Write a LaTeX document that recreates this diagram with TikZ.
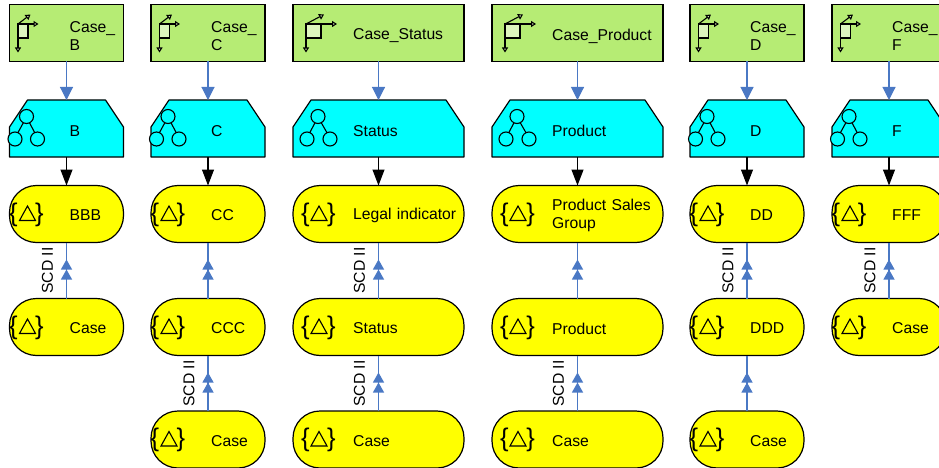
\documentclass[tikz,border=0pt]{standalone}
\usepackage{fontspec}
\setmainfont{Liberation Sans}
\usetikzlibrary{arrows.meta}
\definecolor{grn}{HTML}{B6EC74}
\definecolor{grnl}{HTML}{DDF5BE}
\definecolor{cyn}{HTML}{00FFFF}
\definecolor{yel}{HTML}{FFFF00}
\definecolor{blu}{HTML}{4A78C4}
\tikzset{
 x=1pt,y=-1pt,
 lbl/.style={font=\fontsize{15.7}{18}\selectfont,align=left,anchor=west,inner sep=0pt,text width=#1},
 lbl/.default=100pt,
 boxa/.style={draw=black,line width=1.2pt,fill=grn,inner sep=0pt,outer sep=0pt,anchor=north west,minimum height=57pt},
 boxb/.style={draw=none,inner sep=0pt,outer sep=0pt,anchor=north west,minimum height=57pt},
 boxc/.style={draw=black,line width=1.2pt,fill=yel,rounded corners=27pt,inner sep=0pt,outer sep=0pt,anchor=north west,minimum height=57pt},
 bluearrow/.style={draw=blu,line width=1.1pt,-{Triangle[width=13pt,length=13pt,fill=blu]}},
 blackarrow/.style={draw=black,line width=1.1pt,-{Triangle[width=12pt,length=16pt,fill=black]}},
 blueline/.style={draw=blu,line width=1.1pt},
 dblarrow/.style={draw=blu,line width=1.1pt,-{Triangle[width=11pt,length=10pt,fill=blu]Triangle[width=11pt,length=10pt,fill=blu]},shorten >=17pt},
 ico/.style={draw=black,line width=1.1pt},
 icoarrow/.style={draw=black,line width=1.1pt,-{Triangle[width=6pt,length=5pt,fill=grnl]}},
 scd/.style={font=\fontsize{15.7}{18}\selectfont,rotate=90,inner sep=0pt},
}
\newcommand{\greenbox}[5]{% name x w text textwidth
 \node[boxa,minimum width=#3pt] (#1) at (#2,4.5) {};
 \begin{scope}[shift={(#2,4.5)}]
  \ifdim#3pt>150pt
   \draw[ico,fill=grnl] (13,19.5) rectangle (28,33.5);
   \draw[icoarrow] (13,19.5) -- (44,19.5);
   \draw[icoarrow] (13,19.5) -- (31,10);
   \draw[icoarrow] (13,33.5) -- (13,48);
  \else
   \draw[ico,fill=grnl] (8.5,19.5) rectangle (18.5,33.5);
   \draw[icoarrow] (8.5,19.5) -- (29,19.5);
   \draw[icoarrow] (8.5,19.5) -- (21,10);
   \draw[icoarrow] (8.5,33.5) -- (8.5,48);
  \fi
 \end{scope}
 \node[lbl=#5] (#1t) at (#2+60,36) {#4};
}
\newcommand{\trapbox}[4]{% name x w text
 \draw[black,fill=cyn,line width=1.2pt,line join=round] (#2+18,100) -- (#2+#3-18,100) -- (#2+#3,127) -- (#2+#3,157) -- (#2,157) -- (#2,127) -- cycle;
 \node[boxb,minimum width=#3pt] (#1) at (#2,100) {};
 \begin{scope}[shift={(#2,100)}]
  \ifdim#3pt>150pt
   \draw[ico] (25,17) -- (14,38) (25,17) -- (37,38);
   \draw[ico,fill=cyn] (25,16.5) circle (7);
   \draw[ico,fill=cyn] (14,39) circle (7);
   \draw[ico,fill=cyn] (37,39) circle (7);
  \else
   \draw[ico] (17,17) -- (5.5,38) (17,17) -- (28,38);
   \draw[ico,fill=cyn] (17,16.5) circle (7);
   \draw[ico,fill=cyn] (5.5,39) circle (7);
   \draw[ico,fill=cyn] (28,39) circle (7);
  \fi
 \end{scope}
 \node[lbl] (#1t) at (#2+60,131) {#4};
}
\newcommand{\yelbox}[5]{% name x y w text
 \node[boxc,minimum width=#4pt] (#1) at (#2,#3) {};
 \begin{scope}[shift={(#2,#3)}]
  \ifdim#4pt>150pt
   \node[inner sep=0pt,font=\fontsize{25.5}{26}\selectfont] (#1i) at (25.5,29) {\{\hspace{17.5pt}\}};
   \draw[ico,line join=miter] (18,35) -- (34,35) -- (26,20.5) -- cycle;
  \else
   \node[inner sep=0pt,font=\fontsize{25.5}{26}\selectfont] (#1i) at (17,29) {\{\hspace{17.5pt}\}};
   \draw[ico,line join=miter] (10,35) -- (26,35) -- (18,20.5) -- cycle;
  \fi
 \end{scope}
 \node[lbl=#4pt-60pt] (#1t) at (#2+60,#3+30) {#5};
}
\begin{document}
\begin{tikzpicture}
\useasboundingbox (0,0) rectangle (939,468);
\clip (0,0) rectangle (939,468);
\greenbox{ga}{9.5}{114}{Case\_\\B}{50pt}
\greenbox{gb}{151}{114}{Case\_\\C}{50pt}
\greenbox{gc}{293}{171}{Case\_Status}{110pt}
\greenbox{gd}{492}{171}{Case\_Product}{110pt}
\greenbox{ge}{690}{114}{Case\_\\D}{50pt}
\greenbox{gf}{832}{114}{Case\_\\F}{50pt}
\trapbox{ta}{9.5}{114}{B}
\trapbox{tb}{151}{114}{C}
\trapbox{tc}{293}{171}{Status}
\trapbox{td}{492}{171}{Product}
\trapbox{te}{690}{114}{D}
\trapbox{tf}{832}{114}{F}
\yelbox{ya}{9.5}{185.5}{114}{BBB}
\yelbox{yb}{151}{185.5}{114}{CC}
\yelbox{yc}{293}{185.5}{171}{Legal indicator}
\yelbox{yd}{492}{185.5}{171}{Product Sales\\Group}
\yelbox{ye}{690}{185.5}{114}{DD}
\yelbox{yf}{832}{185.5}{114}{FFF}
\yelbox{za}{9.5}{298.5}{114}{Case}
\yelbox{zb}{151}{298.5}{114}{CCC}
\yelbox{zc}{293}{298.5}{171}{Status}
\yelbox{zd}{492}{298.5}{171}{Product}
\yelbox{ze}{690}{298.5}{114}{DDD}
\yelbox{zf}{832}{298.5}{114}{Case}
\yelbox{wb}{151}{411}{114}{Case}
\yelbox{wc}{293}{411}{171}{Case}
\yelbox{wd}{492}{411}{171}{Case}
\yelbox{we}{690}{411}{114}{Case}
\foreach \g/\t/\y/\z in {ga/ta/ya/za,gb/tb/yb/zb,gc/tc/yc/zc,gd/td/yd/zd,ge/te/ye/ze,gf/tf/yf/zf}{
 \draw[bluearrow] (\g.south) -- (\t.north);
 \draw[blackarrow] (\t.south) -- (\y.north);
 \draw[blueline] (\z.north) -- (\y.south);
 \draw[dblarrow] (\z.north) -- (\y.south);
}
\foreach \z/\w in {zb/wb,zc/wc,zd/wd,ze/we}{
 \draw[blueline] (\w.north) -- (\z.south);
 \draw[dblarrow] (\w.north) -- (\z.south);
}
\path (ya.south) ++(-19,28) node[scd] (sa) {SCD II};
\path (zb.south) ++(-19,28) node[scd] (sb) {SCD II};
\path (yc.south) ++(-19,28) node[scd] (sc) {SCD II};
\path (zc.south) ++(-19,28) node[scd] (sd) {SCD II};
\path (zd.south) ++(-19,28) node[scd] (se) {SCD II};
\path (ye.south) ++(-19,28) node[scd] (sf) {SCD II};
\path (yf.south) ++(-19,28) node[scd] (sg) {SCD II};
\end{tikzpicture}
\end{document}
